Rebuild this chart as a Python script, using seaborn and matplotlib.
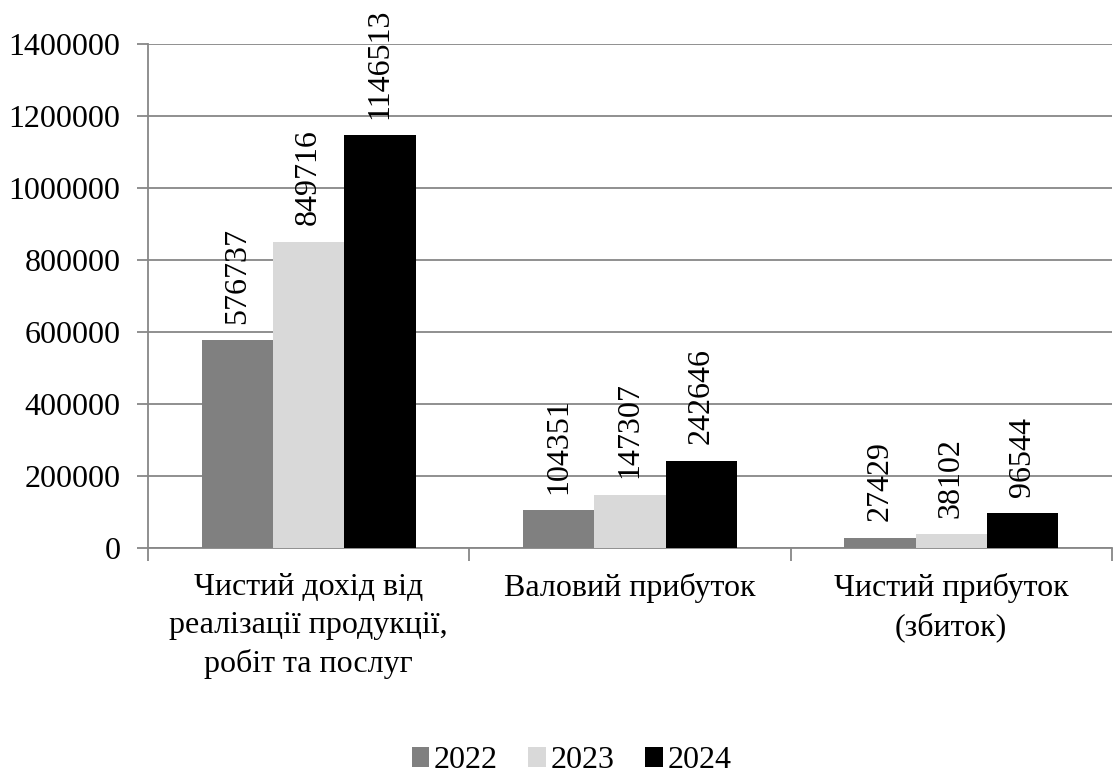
import pandas as pd
import numpy as np
import seaborn as sns
import matplotlib
matplotlib.use('Agg')
import matplotlib.pyplot as plt
from matplotlib.ticker import FuncFormatter, MultipleLocator

# Financial results by year
categories = ['Чистий дохід від\nреалізації продукції,\nробіт та послуг',
              'Валовий прибуток',
              'Чистий прибуток\n(збиток)']
years = ['2022', '2023', '2024']
values_2022 = [576737, 104351, 27429]
values_2023 = [849716, 147307, 38102]
values_2024 = [1146513, 242646, 96544]

df = pd.DataFrame({
    'Category': categories * 3,
    'Year': [years[0]] * 3 + [years[1]] * 3 + [years[2]] * 3,
    'Value': values_2022 + values_2023 + values_2024,
})

sns.set_style('white')
plt.rcParams['font.serif'] = ['Liberation Serif', 'DejaVu Serif']
plt.rcParams['font.family'] = ['Liberation Serif', 'DejaVu Serif']
plt.rcParams['text.color'] = 'black'
plt.rcParams['xtick.labelcolor'] = 'black'
plt.rcParams['ytick.labelcolor'] = 'black'

grid_col = '#878787'

fig = plt.figure(figsize=(11.14, 7.83), dpi=100)
ax = fig.add_axes([0.1329, 0.3001, 0.8652, 0.6437])

sns.barplot(data=df, x='Category', y='Value', hue='Year',
            palette=['#808080', '#d9d9d9', '#000000'],
            width=0.667, gap=0, saturation=1, errorbar=None,
            linewidth=0, ax=ax, zorder=3)

for cont in ax.containers:
    ax.bar_label(cont, fmt='%d', rotation=90, padding=12, fontsize=23,
                 color='black', family='Liberation Serif')

ax.set_ylim(0, 1400000)
ax.set_xlim(-0.5, 2.5)
ax.yaxis.set_major_locator(MultipleLocator(200000))
ax.yaxis.set_major_formatter(FuncFormatter(lambda v, p: f'{int(v)}'))
ax.grid(axis='y', color=grid_col, linewidth=1.3, zorder=0)
ax.set_axisbelow(True)

ax.set_xlabel('')
ax.set_ylabel('')
ax.tick_params(axis='y', labelsize=23, length=8, width=1.3, color=grid_col,
               left=True, pad=12)
ax.tick_params(axis='x', which='major', labelsize=23, length=0, pad=18)
for lbl in ax.get_xticklabels() + ax.get_yticklabels():
    lbl.set_family('Liberation Serif')
for lbl in ax.get_xticklabels():
    lbl.set_linespacing(1.4)
ax.set_xticks([-0.5, 0.5, 1.5, 2.5], minor=True)
ax.tick_params(axis='x', which='minor', length=9, width=1.3, color=grid_col,
               bottom=True)

for s in ['top', 'right']:
    ax.spines[s].set_visible(False)
for s in ['left', 'bottom']:
    ax.spines[s].set_color(grid_col)
    ax.spines[s].set_linewidth(1.3)

ax.get_legend().remove()
handles, labels = ax.get_legend_handles_labels()
fig.legend(handles, labels, loc='lower center', bbox_to_anchor=(0.513, -0.027),
           ncol=3, frameon=False, prop={'family': 'Liberation Serif', 'size': 23},
           handlelength=0.55, handleheight=0.55, handletextpad=0.15,
           columnspacing=0.95)

fig.savefig('out.png', dpi=100)
